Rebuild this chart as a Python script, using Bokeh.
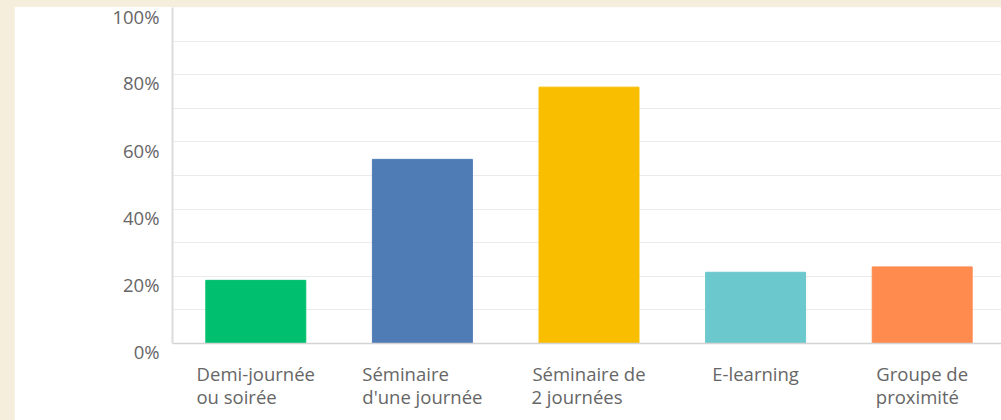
from bokeh.plotting import figure
from bokeh.models import (ColumnDataSource, FactorRange, Range1d, SingleIntervalTicker,
                          FixedTicker, Spacer)
from bokeh.layouts import row
from bokeh.embed import file_html
from bokeh.resources import INLINE

# ---- data ----
categories = ["Demi-journée\nou soirée", "Séminaire\nd'une journée", "Séminaire de\n2 journées",
              "E-learning", "Groupe de\nproximité"]
values = [18.8, 54.8, 76.3, 21.2, 22.8]
colors = ["#00BF6F", "#507CB6", "#F9BE00", "#6BC8CD", "#FF8B4F"]
y_ticks = [0, 20, 40, 60, 80, 100]
y_tick_labels = ["0%", "20%", "40%", "60%", "80%", "100%"]

FONT = "Open Sans"
TEXT_COLOR = "#666666"
FONT_SIZE = "18.5px"

# Axis labels centre every line of a multi-line label; the reference left-aligns
# the lines inside a centred block, so the shorter line gets non-breaking spaces.
NBSP = "\u00a0"
pad_short_line = [8, 7, 5, 0, 2]


def padded(label, n):
    lines = label.split("\n")
    if len(lines) < 2:
        return label
    longest = max(range(len(lines)), key=lambda k: len(lines[k]))
    short = 1 - longest
    lines[short] = lines[short] + NBSP * n
    return "\n".join(lines)


factors = [padded(c, n) for c, n in zip(categories, pad_short_line)]

src = ColumnDataSource(dict(cat=factors, val=values, color=colors))

TOP_ROOM = 20  # room above the frame so the top tick label is not nudged

p = figure(x_range=FactorRange(*factors, range_padding=0), y_range=Range1d(0, 100),
           frame_width=833, frame_height=336,
           min_border_left=158, min_border_right=0, min_border_top=TOP_ROOM, min_border_bottom=77,
           output_backend="svg", toolbar_location=None)

p.vbar(x="cat", top="val", width=0.6, color="color", source=src)

p.outline_line_color = None
p.background_fill_color = "white"
p.border_fill_color = "white"

p.xgrid.visible = False
p.ygrid.ticker = SingleIntervalTicker(interval=10)
p.ygrid.grid_line_color = "#ebebeb"
p.ygrid.grid_line_width = 1

p.xaxis.axis_line_color = "#d4d4d4"
p.xaxis.axis_line_width = 1.5
p.xaxis.major_tick_line_color = None
p.xaxis.minor_tick_line_color = None
p.xaxis.major_tick_in = 0
p.xaxis.major_tick_out = 0
p.xaxis.major_label_text_font = FONT
p.xaxis.major_label_text_font_size = FONT_SIZE
p.xaxis.major_label_text_color = TEXT_COLOR
p.xaxis.major_label_text_line_height = 0.93
p.xaxis.major_label_standoff = 17

# y labels sit a little below their grid lines in the reference: an empty first
# line pushes the visible text down by half a line.
p.yaxis.ticker = FixedTicker(ticks=y_ticks)
p.yaxis.major_label_overrides = {t: "\n" + lab for t, lab in zip(y_ticks, y_tick_labels)}
p.yaxis.axis_line_color = "#dcdcdc"
p.yaxis.axis_line_width = 2
p.yaxis.major_tick_line_color = None
p.yaxis.minor_tick_line_color = None
p.yaxis.major_tick_in = 0
p.yaxis.major_tick_out = 0
p.yaxis.major_label_standoff = 13
p.yaxis.major_label_text_font = FONT
p.yaxis.major_label_text_font_size = FONT_SIZE
p.yaxis.major_label_text_color = TEXT_COLOR
p.yaxis.major_label_text_line_height = 0.66

layout = row(Spacer(width=14), p)

TEMPLATE = """
{% block preamble %}
<style>
html { margin: 0 !important; padding: 0 !important; background-color: #F6EEDC !important; overflow: hidden !important; }
body { margin: 0 !important; padding: 0 !important; background-color: #F6EEDC !important;
       overflow: visible !important; height: auto !important; position: relative !important; top: -13px !important; }
html::before { content: ""; position: fixed; top: 0; left: 0; right: 0; height: 7px; background: #F6EEDC; z-index: 1000; }
</style>
{% endblock %}
"""

open("out.html", "w").write(file_html(layout, INLINE, template=TEMPLATE))
